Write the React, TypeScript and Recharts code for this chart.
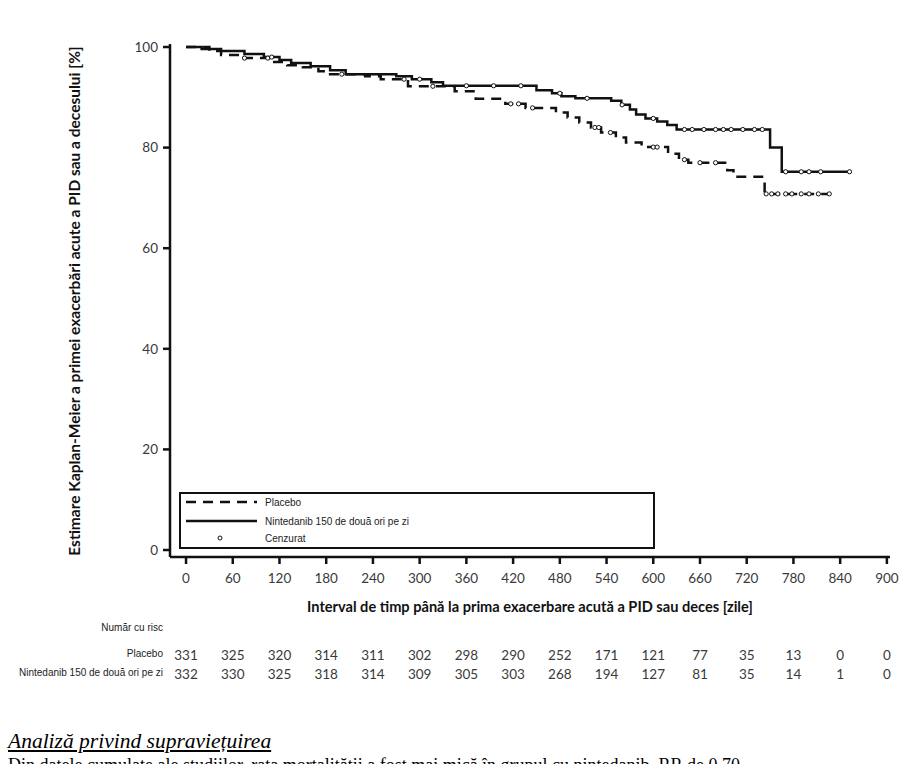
import React from 'react';
import { ComposedChart, Line, Scatter, XAxis, YAxis, Label, Legend } from 'recharts';

// ---- axis ticks ----
const dayTicks = [0, 60, 120, 180, 240, 300, 360, 420, 480, 540, 600, 660, 720, 780, 840, 900];
const pctTicks = [0, 20, 40, 60, 80, 100];

// ---- number at risk ----
const placeboRisk = [331, 325, 320, 314, 311, 302, 298, 290, 252, 171, 121, 77, 35, 13, 0, 0];
const nintRisk = [332, 330, 325, 318, 314, 309, 305, 303, 268, 194, 127, 81, 35, 14, 1, 0];

// ---- Kaplan-Meier steps: Nintedanib 150 (solid) ----
const nintTimes = [0, 20, 45, 75, 100, 120, 135, 160, 185, 205, 270, 290, 315, 330, 450, 470, 482, 500, 546, 559, 570, 578, 590, 605, 618, 630, 750, 765, 852];
const nintSurv = [100, 99.6, 99.2, 98.6, 98.0, 97.4, 96.8, 96.2, 95.4, 94.6, 94.2, 93.6, 93.0, 92.3, 91.4, 90.8, 90.2, 89.8, 89.3, 88.5, 87.6, 86.6, 85.8, 85.2, 84.5, 83.6, 80.0, 75.2, 75.2];
const nintCensored = [110, 300, 360, 395, 430, 480, 515, 560, 600, 640, 650, 665, 680, 690, 700, 715, 730, 740, 770, 790, 800, 815, 852];

// ---- Kaplan-Meier steps: Placebo (dashed) ----
const placTimes = [0, 30, 45, 75, 110, 130, 150, 170, 185, 230, 250, 285, 345, 372, 410, 436, 475, 490, 505, 520, 533, 552, 565, 585, 619, 633, 645, 695, 703, 743, 826];
const placSurv = [100, 99.2, 98.4, 97.8, 97.0, 96.4, 96.0, 95.2, 94.6, 94.2, 93.6, 92.2, 91.2, 89.7, 88.7, 87.9, 87.0, 86.0, 85.0, 84.0, 83.0, 82.0, 81.0, 80.1, 78.8, 77.6, 77.0, 75.5, 74.2, 70.8, 70.8];
const placCensored = [75, 105, 200, 280, 317, 417, 427, 445, 525, 530, 545, 600, 605, 640, 660, 680, 745, 752, 760, 770, 778, 790, 800, 812, 826];

const toSeries = (times: number[], vals: number[]) => times.map((t, i) => ({ t, v: vals[i] }));
const stepAt = (times: number[], vals: number[], t: number) => {
  let v = vals[0];
  for (let i = 0; i < times.length; i++) if (times[i] <= t) v = vals[i];
  return v;
};
const toCensor = (c: number[], times: number[], vals: number[]) => c.map((t) => ({ t, v: stepAt(times, vals, t) }));

const nintData = toSeries(nintTimes, nintSurv);
const placData = toSeries(placTimes, placSurv);
const nintCens = toCensor(nintCensored, nintTimes, nintSurv);
const placCens = toCensor(placCensored, placTimes, placSurv);
// rows for the at-risk axes (no visible mark, only the tick texts)
const riskRowP = dayTicks.map((t, i) => ({ t, n: placeboRisk[i], v: null }));
const riskRowN = dayTicks.map((t, i) => ({ t, n: nintRisk[i], v: null }));

const INK = '#111';
const TICK_FONT = { fontFamily: 'Lato, "Open Sans", sans-serif', fontSize: 13.5, fill: '#3a3a3a' };
const SMALL_FONT = '"Liberation Sans", Arial, sans-serif';

const CensorMark = (props: any) => {
  const { cx, cy } = props;
  if (cx == null || cy == null) return null;
  return <circle cx={cx} cy={cy} r={2.1} fill="#fff" stroke={INK} strokeWidth={1} />;
};

const LegendBox = () => (
  <svg width={477} height={58} style={{ display: 'block' }}>
    <rect x={1} y={1} width={474} height={55} fill="#fff" stroke={INK} strokeWidth={2} />
    <line x1={7} x2={78} y1={10} y2={10} stroke={INK} strokeWidth={2.5} strokeDasharray="10 7" />
    <text x={86} y={13.5} style={{ fontFamily: SMALL_FONT, fontSize: 10, fill: '#222' }}>Placebo</text>
    <line x1={7} x2={78} y1={29} y2={29} stroke={INK} strokeWidth={2.5} />
    <text x={86} y={32.5} style={{ fontFamily: SMALL_FONT, fontSize: 10, fill: '#222' }}>Nintedanib 150 de două ori pe zi</text>
    <circle cx={41} cy={46} r={2} fill="#fff" stroke={INK} strokeWidth={1} />
    <text x={86} y={49.5} style={{ fontFamily: SMALL_FONT, fontSize: 10, fill: '#222' }}>Cenzurat</text>
  </svg>
);

const smallLabel: React.CSSProperties = {
  position: 'absolute',
  right: 921 - 163,
  fontFamily: SMALL_FONT,
  fontSize: 10,
  color: '#222',
  whiteSpace: 'nowrap',
  lineHeight: '12px',
};

export default function App() {
  return (
    <div style={{ position: 'absolute', left: 0, top: 0, width: 921, height: 764, background: '#fff', overflow: 'hidden' }}>
      <ComposedChart width={921} height={700} margin={{ top: 44, right: 31, bottom: 45, left: 0 }}>
        <XAxis
          xAxisId="main"
          type="number"
          dataKey="t"
          domain={[-20.6, 904]}
          ticks={dayTicks}
          interval={0}
          height={60}
          tickSize={7}
          tickMargin={9}
          axisLine={{ stroke: INK, strokeWidth: 2.5 }}
          tickLine={{ stroke: INK, strokeWidth: 2.5 }}
          tick={TICK_FONT}
          allowDataOverflow
        >
          <Label
            value="Interval de timp până la prima exacerbare acută a PID sau deces [zile]"
            position="insideBottom"
            offset={5}
            style={{ fontFamily: 'Lato, "Open Sans", sans-serif', fontSize: 14.6, fontWeight: 700, fill: '#111' }}
          />
        </XAxis>
        <XAxis
          xAxisId="risk1"
          type="number"
          dataKey="t"
          domain={[-20.6, 904]}
          ticks={dayTicks}
          interval={0}
          height={19}
          tickSize={0}
          tickMargin={33}
          axisLine={false}
          tickLine={false}
          tick={TICK_FONT}
          tickFormatter={(v: number) => String(placeboRisk[Math.round(v / 60)])}
          allowDataOverflow
        />
        <XAxis
          xAxisId="risk2"
          type="number"
          dataKey="t"
          domain={[-20.6, 904]}
          ticks={dayTicks}
          interval={0}
          height={19}
          tickSize={0}
          tickMargin={33}
          axisLine={false}
          tickLine={false}
          tick={TICK_FONT}
          tickFormatter={(v: number) => String(nintRisk[Math.round(v / 60)])}
          allowDataOverflow
        />
        <YAxis
          type="number"
          dataKey="v"
          domain={[-1.39, 100.6]}
          ticks={pctTicks}
          interval={0}
          width={170}
          tickSize={7}
          tickMargin={5}
          axisLine={{ stroke: INK, strokeWidth: 2.5 }}
          tickLine={{ stroke: INK, strokeWidth: 2.5 }}
          tick={TICK_FONT}
          allowDataOverflow
        >
          <Label
            content={() => (
              <text
                x={76}
                y={301}
                transform="rotate(-90 76 301)"
                textAnchor="middle"
                dominantBaseline="middle"
                style={{ fontFamily: 'Lato, "Open Sans", sans-serif', fontSize: 15.5, fontWeight: 700, fill: '#111' }}
              >
                Estimare Kaplan-Meier a primei exacerbări acute a PID sau a decesului [%]
              </text>
            )}
          />
        </YAxis>
        <Legend
          layout="horizontal"
          verticalAlign="middle"
          align="center"
          content={() => <LegendBox />}
          wrapperStyle={{ left: 179, top: 492, width: 477, height: 58 }}
        />
        <Line xAxisId="risk1" data={riskRowP} dataKey="v" stroke="none" dot={false} activeDot={false} isAnimationActive={false} legendType="none" />
        <Line xAxisId="risk2" data={riskRowN} dataKey="v" stroke="none" dot={false} activeDot={false} isAnimationActive={false} legendType="none" />
        <Line
          xAxisId="main"
          data={placData}
          dataKey="v"
          type="stepAfter"
          stroke={INK}
          strokeWidth={2.5}
          strokeDasharray="10 7"
          dot={false}
          activeDot={false}
          isAnimationActive={false}
          legendType="none"
        />
        <Line
          xAxisId="main"
          data={nintData}
          dataKey="v"
          type="stepAfter"
          stroke={INK}
          strokeWidth={2.5}
          dot={false}
          activeDot={false}
          isAnimationActive={false}
          legendType="none"
        />
        <Scatter xAxisId="main" data={placCens} dataKey="v" shape={CensorMark} isAnimationActive={false} legendType="none" />
        <Scatter xAxisId="main" data={nintCens} dataKey="v" shape={CensorMark} isAnimationActive={false} legendType="none" />
      </ComposedChart>

      <div style={{ ...smallLabel, top: 622 }}>Număr cu risc</div>
      <div style={{ ...smallLabel, top: 648 }}>Placebo</div>
      <div style={{ ...smallLabel, top: 667 }}>Nintedanib 150 de două ori pe zi</div>

      <div
        style={{
          position: 'absolute',
          left: 8,
          top: 729,
          fontFamily: '"Liberation Serif", "Times New Roman", serif',
          fontStyle: 'italic',
          textDecoration: 'underline',
          fontSize: 21.5,
          lineHeight: '24px',
          color: '#000',
          whiteSpace: 'nowrap',
        }}
      >
        Analiză privind supraviețuirea
      </div>
      <div
        style={{
          position: 'absolute',
          left: 8,
          top: 755,
          fontFamily: '"Liberation Serif", "Times New Roman", serif',
          fontSize: 18,
          lineHeight: '20px',
          color: '#000',
          whiteSpace: 'nowrap',
        }}
      >
        Din datele cumulate ale studiilor, rata mortalității a fost mai mică în grupul cu nintedanib, RR de 0,70
      </div>
    </div>
  );
}
